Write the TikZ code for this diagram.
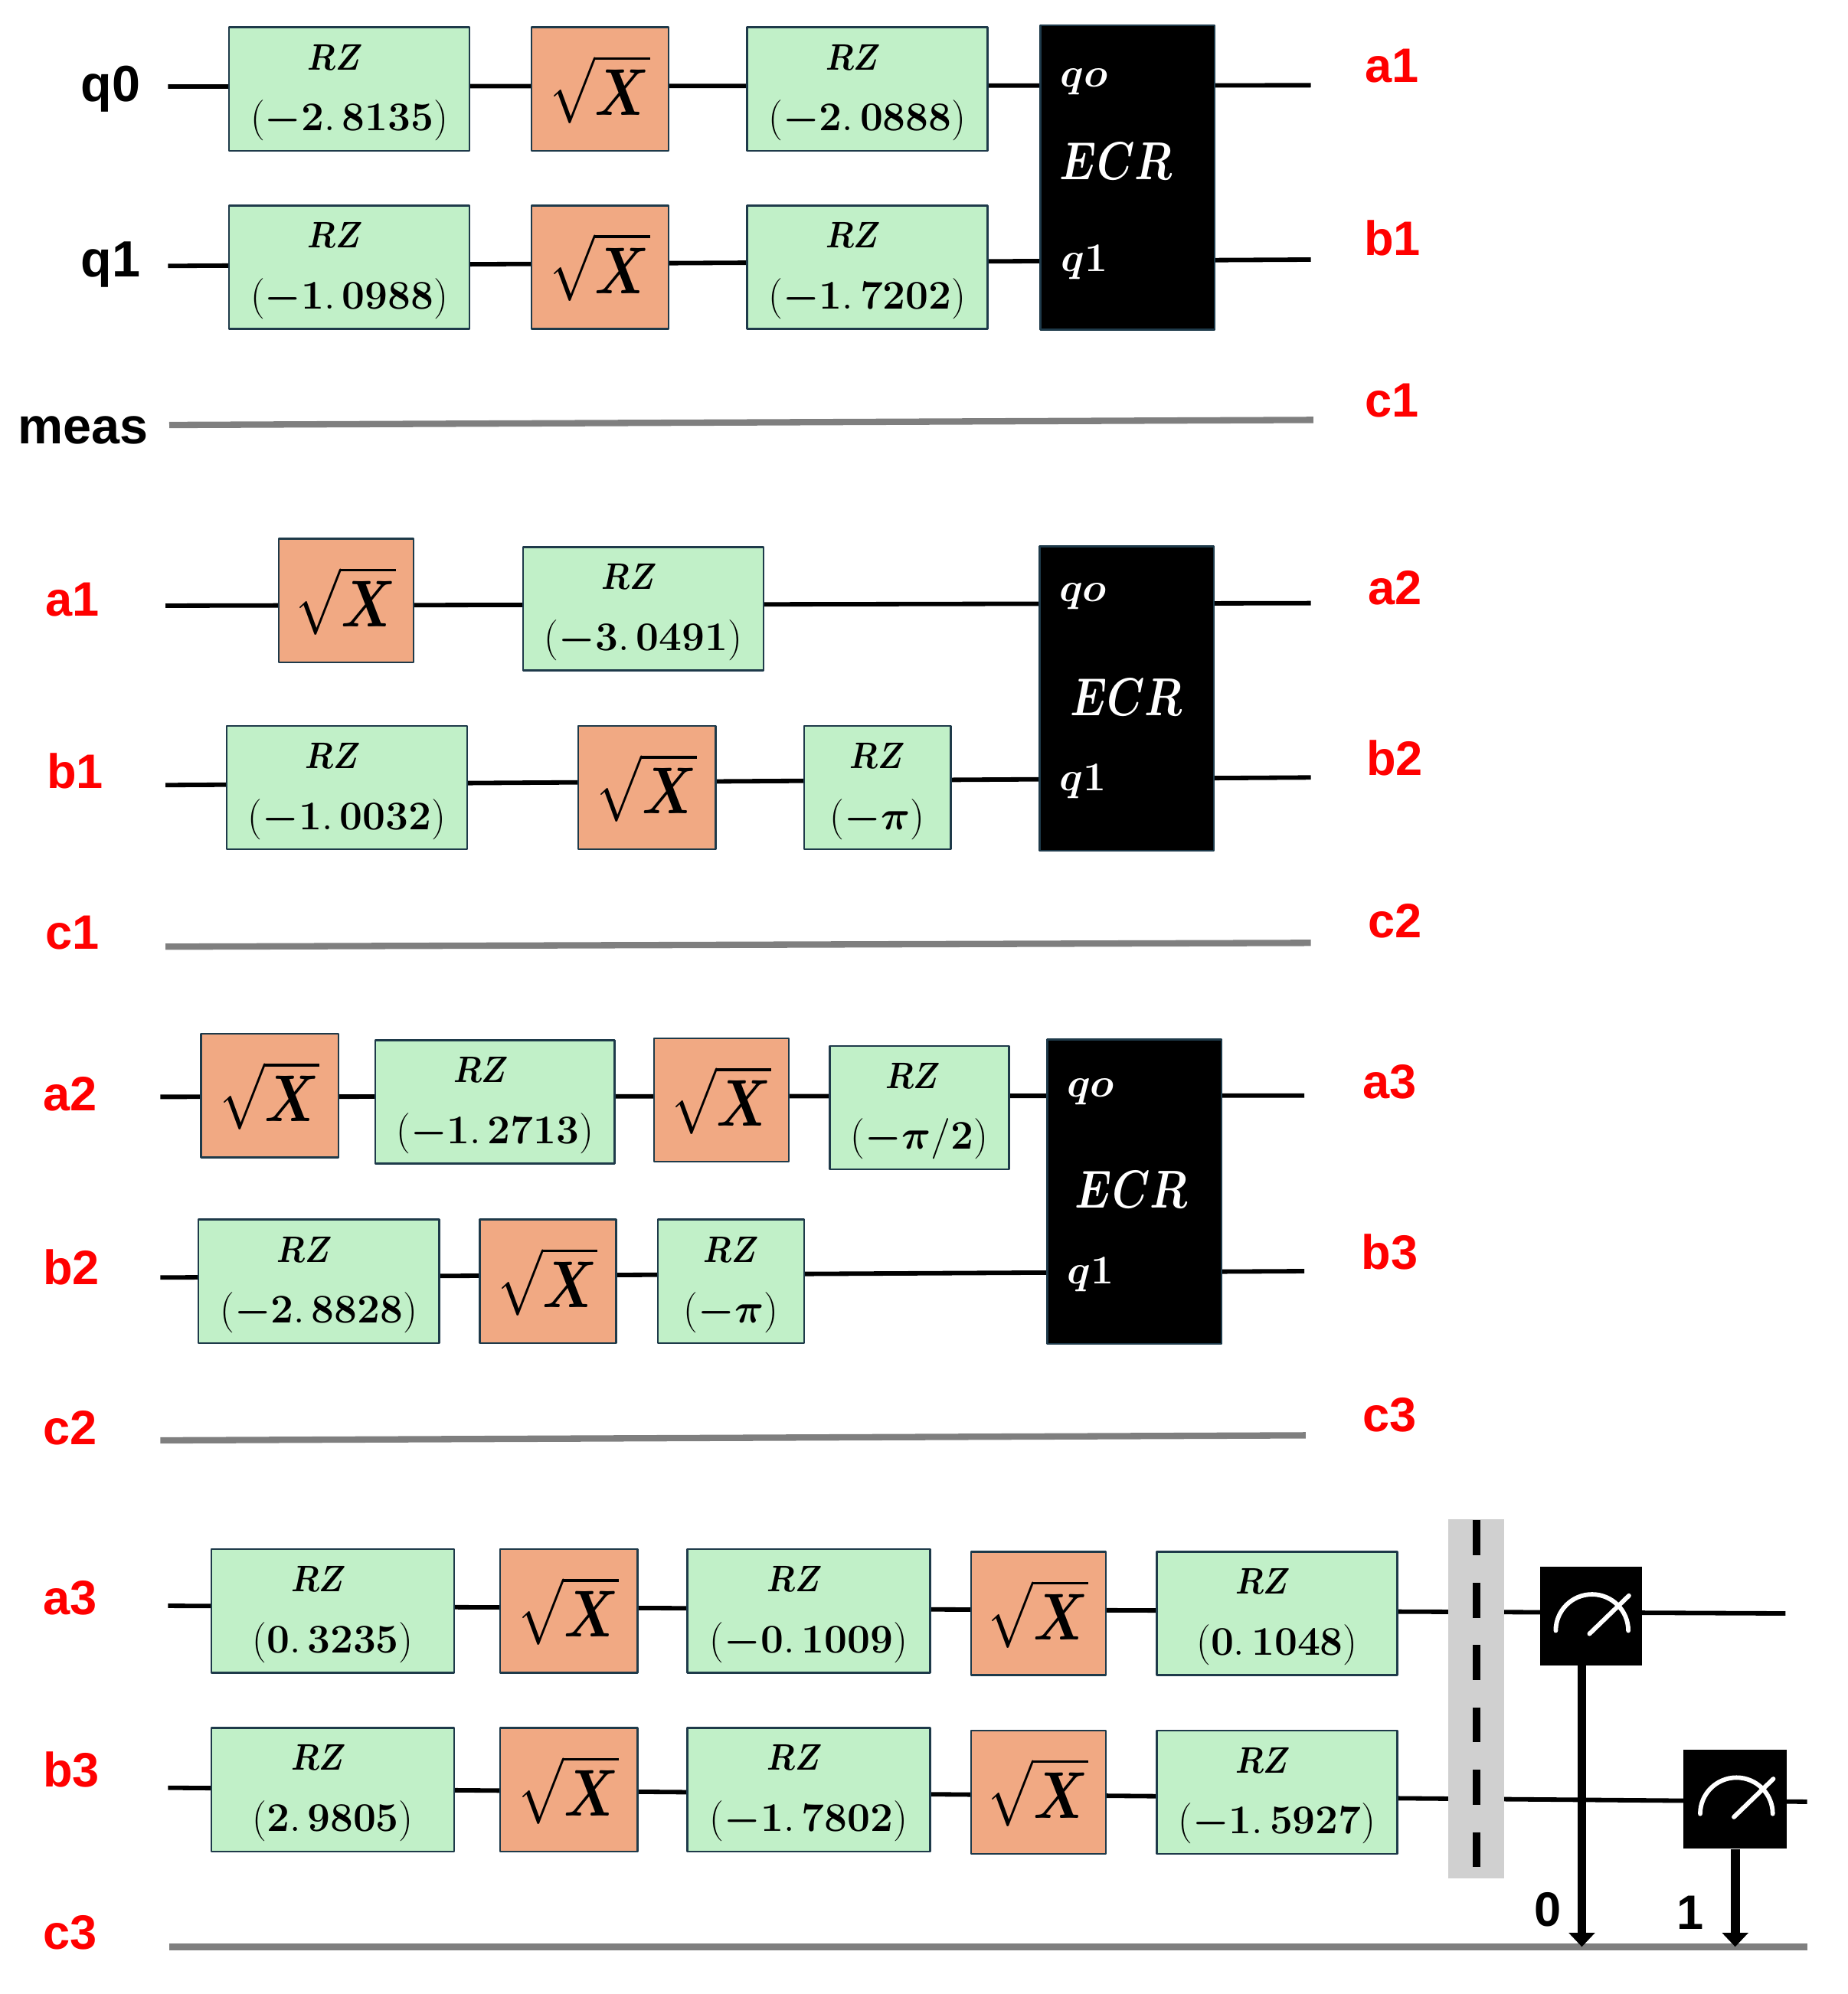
\RequirePackage{fix-cm}
\documentclass[tikz,border=0pt]{standalone}
\usepackage[no-math]{fontspec}
\usepackage{amsmath}
\usetikzlibrary{arrows.meta}
\newfontfamily\labfont{Liberation Sans}
\definecolor{rzgreen}{HTML}{C1F0C8}
\definecolor{sxorange}{HTML}{F1A983}
\definecolor{gateedge}{HTML}{1E3A4A}
\definecolor{cgray}{HTML}{7F7F7F}
\definecolor{bargray}{HTML}{D0D0D0}
\definecolor{labred}{HTML}{FF0000}
\newcommand{\rzt}[2][22pt]{\mbox{\fontsize{29}{46}\selectfont\rule{0pt}{25.5pt}\scalebox{0.87}[1]{$\boldsymbol{RZ}$}\kern#1}\\$(#2)$}
\newcommand{\sxt}{\scalebox{0.81}[1]{$\sqrt{\boldsymbol{X}}$}}
\newcommand{\ecrt}{\scalebox{0.8}[1]{$\boldsymbol{ECR}$}}
\begin{document}
\begin{tikzpicture}[x=1pt,y=-1pt,line join=round,
	wire/.style={line width=3.5pt},
	cwire/.style={line width=5pt,draw=cgray},
	gate/.style={draw=gateedge,line width=1.5pt,inner sep=0pt},
	rz/.style={gate,fill=rzgreen,minimum width=189pt,minimum height=97pt,align=center,font=\fontsize{32}{48}\selectfont},
	sx/.style={gate,fill=sxorange,minimum width=108pt,minimum height=97pt,font=\fontsize{52}{60}\selectfont},
	ecr/.style={gate,fill=black,minimum width=137pt,minimum height=239pt},
	ecrtxt/.style={text=white,inner sep=0pt,font=\fontsize{32}{40}\selectfont},
	ecrbig/.style={ecrtxt,font=\fontsize{42}{50}\selectfont},
	qlab/.style={inner sep=0pt,font=\labfont\bfseries\fontsize{40}{48}\selectfont},
	rlab/.style={inner sep=0pt,text=labred,font=\labfont\bfseries\fontsize{38}{46}\selectfont},
	nlab/.style={inner sep=0pt,font=\labfont\bfseries\fontsize{38}{46}\selectfont},
	meter/.style={fill=black,minimum width=80pt,minimum height=78pt,inner sep=0pt},
	needle/.style={draw=white,line width=3.5pt,line cap=round},
	marrow/.style={line width=7pt,-{Triangle[width=20pt,length=11pt]}}]
	\useasboundingbox (0,0) rectangle (1451.6,1567.1);
	% khối 1
	\coordinate (q0l) at (132,68); \coordinate (q0r) at (1030,67);
	\coordinate (q1l) at (132,209); \coordinate (q1r) at (1030,204);
	\coordinate (ml) at (133,334); \coordinate (mr) at (1032,330);
	\draw[wire] (q0l)--(q0r);
	\draw[wire] (q1l)--(q1r);
	\draw[cwire] (ml)--(mr);
	\node[rz] (r1) at (274.5,70) {\rzt{\boldsymbol{-}\mathbf{2.\,8135}}};
	\node[sx] (s1) at (471.5,70) {\sxt};
	\node[rz] (r2) at (681.5,70) {\rzt{\boldsymbol{-}\mathbf{2.\,0888}}};
	\node[rz] (r3) at (274.5,210) {\rzt{\boldsymbol{-}\mathbf{1.\,0988}}};
	\node[sx] (s2) at (471.5,210) {\sxt};
	\node[rz] (r4) at (681.5,210) {\rzt{\boldsymbol{-}\mathbf{1.\,7202}}};
	\node[ecr] (e1) at (886,139.5) {};
	\path
	(852,64) node[ecrtxt] (e1a) {$\boldsymbol{qo}$}
	(877,127) node[ecrbig] (e1b) {\ecrt}
	(852,206) node[ecrtxt] (e1c) {$\boldsymbol{q1}$};
	\path
	(87,70) node[qlab] (lq0) {q0}
	(87,208) node[qlab] (lq1) {q1}
	(65,338) node[qlab] (lm) {meas}
	(1094,52) node[rlab] (la1) {a1}
	(1094,187) node[rlab] (lb1) {b1}
	(1094,315) node[rlab] (lc1) {c1};
	% khối 2
	\coordinate (a1l) at (130,476); \coordinate (a1r) at (1030,474);
	\coordinate (b1l) at (130,617); \coordinate (b1r) at (1030,611);
	\coordinate (c1l) at (130,744); \coordinate (c1r) at (1030,741);
	\draw[wire] (a1l)--(a1r);
	\draw[wire] (b1l)--(b1r);
	\draw[cwire] (c1l)--(c1r);
	\node[sx,minimum width=106pt] (s3) at (272,472) {\sxt};
	\node[rz] (r5) at (505.5,478.5) {\rzt{\boldsymbol{-}\mathbf{3.\,0491}}};
	\node[rz] (r6) at (272.5,619) {\rzt{\boldsymbol{-}\mathbf{1.\,0032}}};
	\node[sx] (s4) at (508.5,619) {\sxt};
	\node[rz,minimum width=115pt] (r7) at (689.5,619) {\rzt[0pt]{\boldsymbol{-\pi}}};
	\node[ecr] (e2) at (885.5,549) {};
	\path
	(851,469) node[ecrtxt] (e2a) {$\boldsymbol{qo}$}
	(885,548) node[ecrbig] (e2b) {\ecrt}
	(851,614) node[ecrtxt] (e2c) {$\boldsymbol{q1}$};
	\path
	(57,471) node[rlab] (la1b) {a1}
	(59,606) node[rlab] (lb1b) {b1}
	(57,733) node[rlab] (lc1b) {c1}
	(1096,462) node[rlab] (la2) {a2}
	(1096,596) node[rlab] (lb2) {b2}
	(1096,724) node[rlab] (lc2) {c2};
	% khối 3
	\coordinate (a2l) at (126,862); \coordinate (a2r) at (1025,861);
	\coordinate (b2l) at (126,1004); \coordinate (b2r) at (1025,999);
	\coordinate (c2l) at (126,1132); \coordinate (c2r) at (1026,1128);
	\draw[wire] (a2l)--(a2r);
	\draw[wire] (b2l)--(b2r);
	\draw[cwire] (c2l)--(c2r);
	\node[sx] (s5) at (212,861) {\sxt};
	\node[rz,minimum width=188pt] (r8) at (389,866) {\rzt{\boldsymbol{-}\mathbf{1.\,2713}}};
	\node[sx,minimum width=106pt] (s6) at (567,864.5) {\sxt};
	\node[rz,minimum width=141pt] (r9) at (722.5,870.5) {\rzt[10pt]{\boldsymbol{-\pi}/\mathbf{2}}};
	\node[ecr] (e3) at (891.5,936.5) {};
	\node[rz] (r10) at (250.5,1007) {\rzt{\boldsymbol{-}\mathbf{2.\,8828}}};
	\node[sx,minimum width=107pt] (s7) at (430.5,1007) {\sxt};
	\node[rz,minimum width=115pt] (r11) at (574.5,1007) {\rzt[0pt]{\boldsymbol{-\pi}}};
	\path
	(857,858) node[ecrtxt] (e3a) {$\boldsymbol{qo}$}
	(889,935) node[ecrbig] (e3b) {\ecrt}
	(857,1002) node[ecrtxt] (e3c) {$\boldsymbol{q1}$};
	\path
	(55,860) node[rlab] (la2b) {a2}
	(56,996) node[rlab] (lb2b) {b2}
	(55,1122) node[rlab] (lc2b) {c2}
	(1092,850) node[rlab] (la3) {a3}
	(1092,984) node[rlab] (lb3) {b3}
	(1092,1112) node[rlab] (lc3) {c3};
	% khối 4
	\coordinate (a3l) at (132,1262); \coordinate (a3r) at (1403,1268);
	\coordinate (b3l) at (132,1405); \coordinate (b3r) at (1420,1416);
	\coordinate (c3l) at (133,1530); \coordinate (c3r) at (1420,1530);
	\draw[wire] (a3l)--(a3r);
	\draw[wire] (b3l)--(b3r);
	\draw[cwire] (c3l)--(c3r);
	\node[rz,minimum width=191pt] (r12) at (261.5,1266) {\rzt{\mathbf{0.\,3235}}};
	\node[sx] (s8) at (447,1266) {\sxt};
	\node[rz,minimum width=191pt] (r13) at (635.5,1266) {\rzt{\boldsymbol{-}\mathbf{0.\,1009}}};
	\node[sx,minimum width=106pt] (s9) at (816,1268) {\sxt};
	\node[rz] (r14) at (1003.5,1268) {\rzt{\mathbf{0.\,1048}}};
	\node[rz,minimum width=191pt] (r15) at (261.5,1406.5) {\rzt{\mathbf{2.\,9805}}};
	\node[sx] (s10) at (447,1406.5) {\sxt};
	\node[rz,minimum width=191pt] (r16) at (635.5,1406.5) {\rzt{\boldsymbol{-}\mathbf{1.\,7802}}};
	\node[sx,minimum width=106pt] (s11) at (816,1408.5) {\sxt};
	\node[rz] (r17) at (1003.5,1408.5) {\rzt{\boldsymbol{-}\mathbf{1.\,5927}}};
	\node[fill=bargray,minimum width=44pt,minimum height=282pt,inner sep=0pt] (bar) at (1160,1335) {};
	\draw[line width=6pt,dash pattern=on 27.5pt off 21.5pt] ([yshift=-1pt]bar.north)--(bar.south);
	\node[meter] (m1) at (1250,1270) {};
	\node[meter,minimum width=81pt] (m2) at (1363.5,1414) {};
	\draw[needle] ([shift={(-27.5,11.5)}]m1.center) arc (180:0:28.5pt);
	\draw[needle] ([shift={(-1,14)}]m1.center)--([shift={(30,-16)}]m1.center);
	\draw[needle] ([shift={(-27.5,11.5)}]m2.center) arc (180:0:28.5pt);
	\draw[needle] ([shift={(-1,14)}]m2.center)--([shift={(30,-16)}]m2.center);
	\draw[marrow] ([xshift=-7pt]m1.south)--([xshift=-7pt]m1.south |- c3l);
	\draw[marrow] (m2.south)--(m2.south |- c3l);
	\path
	(1216,1501) node[nlab] (n0) {0}
	(1328,1503) node[nlab] (n1) {1};
	\path
	(55,1256) node[rlab] (la3b) {a3}
	(56,1391) node[rlab] (lb3b) {b3}
	(55,1519) node[rlab] (lc3b) {c3};
\end{tikzpicture}
\end{document}
